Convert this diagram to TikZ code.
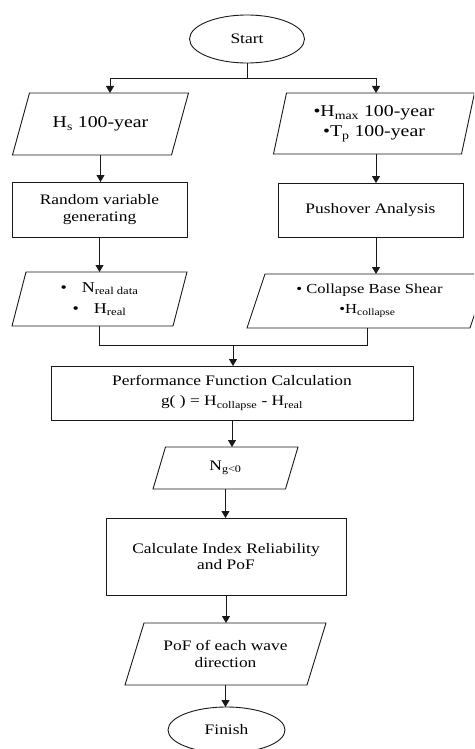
\documentclass[tikz,border=0pt]{standalone}
\usepackage{fontspec}
\setmainfont{Liberation Serif}[FakeStretch=1.2]
\usetikzlibrary{arrows.meta,shapes.geometric}
\tikzset{
  line/.style={draw=black!90, line width=0.9pt},
  arr/.style={line, -{Triangle[length=7pt,width=8pt]}},
  term/.style={line, ellipse, inner sep=0pt, outer sep=0pt, font=\fontsize{14.5}{16.5}\selectfont},
  proc/.style={line, rectangle, inner sep=0pt, outer sep=0pt, align=center, font=\fontsize{14.5}{16.5}\selectfont},
  iobox/.style={rectangle, inner sep=0pt, outer sep=0pt, align=center, font=\fontsize{14.5}{16.5}\selectfont},
}
\newcommand{\paraout}[2]{%
  \draw[line] ([xshift=#2/2]#1.north west) -- ([xshift=#2/2]#1.north east)
    -- ([xshift=-#2/2]#1.south east) -- ([xshift=-#2/2]#1.south west) -- cycle;}
\begin{document}
\begin{tikzpicture}[x=1pt,y=-1pt]
\clip (0,0) rectangle (474,749);
\fill[white] (0,0) rectangle (474,749);

\node[term, minimum width=115pt, minimum height=48pt] (start) at (247,39) {Start};

\node[iobox, minimum width=159pt, minimum height=62pt, font=\fontsize{16.5}{20}\selectfont] (hs) at (100.5,124) {H\textsubscript{s} 100-year};
\paraout{hs}{17}

\node[proc, minimum width=175pt, minimum height=55pt] (rand) at (99.5,209.5) {Random variable\\generating};

\node[iobox, minimum width=188pt, minimum height=61pt, font=\fontsize{16.5}{20}\selectfont] (hr) at (374,123.5) {•H\textsubscript{max} 100-year\\•T\textsubscript{p} 100-year};
\paraout{hr}{13}

\node[proc, minimum width=185pt, minimum height=54pt] (push) at (370.5,210) {Pushover Analysis};

\node[iobox, minimum width=161pt, minimum height=54pt, font=\fontsize{15}{21}\selectfont] (nreal) at (99.5,299) {•\quad N\textsubscript{real data}\\•\quad H\textsubscript{real}};
\paraout{nreal}{14}

\node[iobox, minimum width=223pt, minimum height=54pt, font=\fontsize{13.8}{20}\selectfont] (coll) at (367.5,301) {\hspace*{4pt}• Collapse Base Shear\\•H\textsubscript{collapse}};
\paraout{coll}{18}

\node[proc, minimum width=362pt, minimum height=54pt, font=\fontsize{14.5}{20}\selectfont] (perf) at (232,393) {Performance Function Calculation\\g( ) = H\textsubscript{collapse} - H\textsubscript{real}};

\node[iobox, minimum width=132.5pt, minimum height=42pt] (ng) at (225.5,468) {N\textsubscript{g<0}};
\paraout{ng}{12.5}

\node[proc, minimum width=240pt, minimum height=77pt] (calc) at (226,556.5) {Calculate Index Reliability\\and PoF};

\node[iobox, minimum width=182pt, minimum height=62pt] (pof) at (225.5,654) {PoF of each wave\\direction};
\paraout{pof}{19}

\node[term, minimum width=117pt, minimum height=46pt] (finish) at (226.5,730) {Finish};

% connectors
\coordinate (split) at (247,78);
\draw[line] (start.south) -- (split);
\draw[arr] (split) -| ([xshift=9.5]hs.north);
\draw[arr] (split) -| ([xshift=2]hr.north);
\draw[arr] (hs.south) -- (hs.south |- rand.north);
\draw[arr] ([xshift=2]hr.south) -- ([xshift=2]hr.south |- push.north);
\draw[arr] (rand.south) -- (rand.south |- nreal.north);
\draw[arr] ([xshift=2]hr.south |- push.south) -- ([xshift=2]hr.south |- coll.north);
\coordinate (join) at (233,345);
\draw[line] (nreal.south) |- (coll.south |- join) -- (coll.south);
\draw[arr] (join) -- (join |- perf.north);
\draw[arr] (perf.south) -- (perf.south |- ng.north);
\draw[arr] (ng.south) -- (ng.south |- calc.north);
\draw[arr] (calc.south) -- (calc.south |- pof.north);
\draw[arr] (pof.south) -- (pof.south |- finish.north);
\end{tikzpicture}
\end{document}
